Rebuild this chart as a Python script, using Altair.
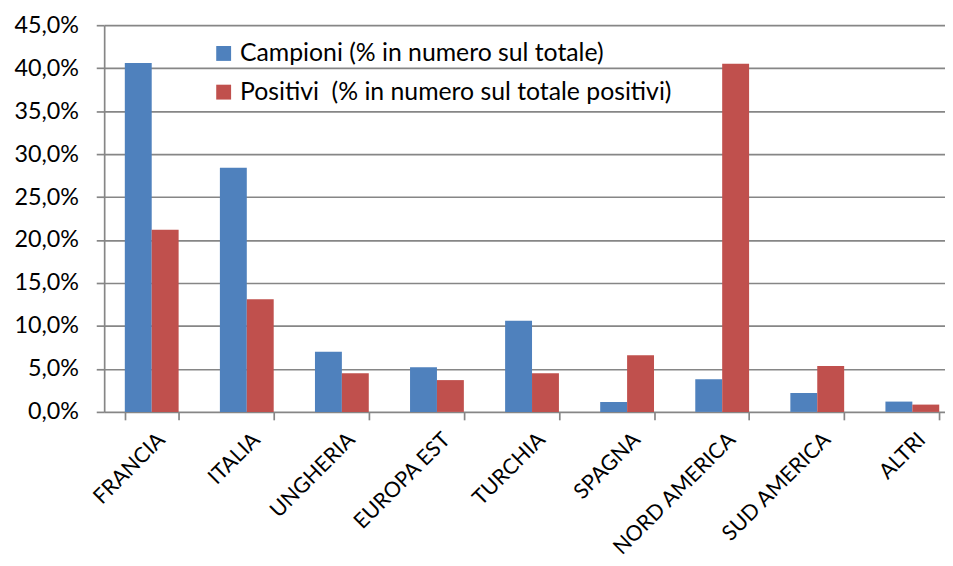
import altair as alt
import pandas as pd

categories = ["FRANCIA", "ITALIA", "UNGHERIA", "EUROPA EST", "TURCHIA",
              "SPAGNA", "NORD AMERICA", "SUD AMERICA", "ALTRI"]
campioni = [40.6, 28.4, 7.0, 5.2, 10.6, 1.15, 3.8, 2.2, 1.2]
positivi = [21.2, 13.1, 4.5, 3.7, 4.5, 6.6, 40.5, 5.35, 0.85]
series = ["Campioni (% in numero sul totale)",
          "Positivi\u00a0 (% in numero sul totale positivi)"]
colors = ["#4F81BD", "#C0504D"]
y_ticks = [0, 5, 10, 15, 20, 25, 30, 35, 40, 45]

rows = []
for c, a, b in zip(categories, campioni, positivi):
    rows.append({"paese": c, "serie": series[0], "valore": a})
    rows.append({"paese": c, "serie": series[1], "valore": b})
df = pd.DataFrame(rows)

FONT = "Lato"
GRID = "#868686"

chart = alt.Chart(df).mark_bar().encode(
    x=alt.X("paese:N", sort=categories,
            scale=alt.Scale(range=[0, 863], paddingInner=0.434, paddingOuter=0.217),
            axis=alt.Axis(title=None, labelAngle=-45, tickBand="extent",
                          domain=False, grid=False, ticks=True,
                          tickColor=GRID, tickSize=8, tickWidth=1.7,
                          labelFontSize=21.5, labelColor="black", labelFont=FONT,
                          labelPadding=9, labelOffset=2, labelLimit=400)),
    xOffset=alt.XOffset("serie:N", sort=series),
    y=alt.Y("valore:Q",
            scale=alt.Scale(domain=[0, 45], nice=False),
            axis=alt.Axis(values=y_ticks, title=None,
                          labelExpr="replace(format(datum.value, '.1f'), '.', ',') + '%'",
                          grid=True, gridColor=GRID, gridWidth=1.7,
                          domainColor=GRID, domainWidth=1.7,
                          tickColor=GRID, tickSize=8, tickWidth=1.7,
                          labelFontSize=23.5, labelColor="black", labelFont=FONT,
                          labelPadding=18)),
    color=alt.Color("serie:N", sort=series,
                    scale=alt.Scale(domain=series, range=colors),
                    legend=alt.Legend(title=None, orient="none", legendX=108, legendY=16,
                                      symbolType="square", symbolSize=225,
                                      symbolStrokeWidth=0, labelFontSize=25,
                                      labelFont=FONT, labelColor="black",
                                      labelOffset=4, rowPadding=13, padding=0,
                                      labelLimit=600)),
).properties(
    width=848, height=390,
    autosize=alt.AutoSizeParams(type="none"),
    padding={"left": 97, "top": 15, "right": 0, "bottom": 145},
).configure_view(stroke=None)

chart.save("out.html", embed_options={"renderer": "svg", "actions": False})
